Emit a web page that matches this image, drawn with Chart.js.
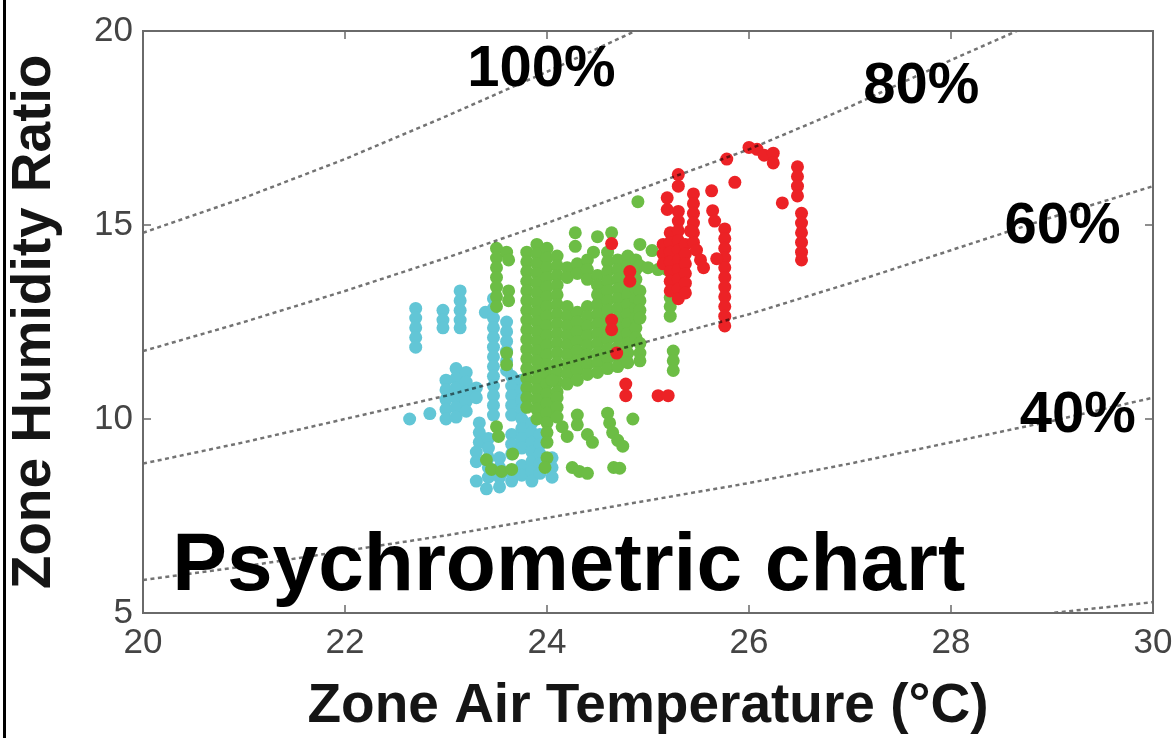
<!DOCTYPE html>
<html>
<head>
<meta charset="utf-8">
<script src="https://cdn.jsdelivr.net/npm/chart.js@4.4.0/dist/chart.umd.min.js"></script>
<style>
  html, body { margin: 0; padding: 0; background: #ffffff; }
  #wrap { position: relative; width: 1174px; height: 738px; overflow: hidden; }
  #edge { position: absolute; left: 3px; top: 0; width: 3px; height: 738px; background: #000; }
  canvas { position: absolute; left: 0; top: 0; }
</style>
</head>
<body>
<div id="wrap">
  <canvas id="c" width="1174" height="738"></canvas>
  <div id="edge"></div>
</div>
<script>
// ---------- axis ticks ----------
const xTicks = [20, 22, 24, 26, 28, 30];
const yTicks = [5, 10, 15, 20];

// ---------- relative-humidity curves ----------
const rhTemps = [20, 21, 22, 23, 24, 25, 26, 27, 28, 29, 30];
const rh100 = [14.8, 15.7, 16.7, 17.8, 18.95, 20.15, 21.4, 22.7, 24.1, 25.5, 27.0];
const rh80  = [11.75, 12.5, 13.3, 14.15, 15.05, 16.0, 16.95, 18.05, 19.25, 20.4, 21.5];
const rh60  = [8.85, 9.4, 10.0, 10.6, 11.3, 12.0, 12.7, 13.5, 14.35, 15.2, 16.0];
const rh40  = [5.85, 6.2, 6.6, 7.0, 7.45, 7.9, 8.35, 8.85, 9.4, 9.95, 10.55];
const rh20  = [2.9, 3.1, 3.3, 3.5, 3.7, 3.95, 4.2, 4.45, 4.7, 5.0, 5.28];

// ---------- measured zone points [temperature, humidity ratio] ----------
const cyanPoints = [
  [22.64,10.0],[22.84,10.14],
  [22.7,12.85],[22.7,12.6],[22.7,12.35],[22.7,12.1],[22.7,11.85],
  [22.97,12.8],[22.97,12.55],[22.97,12.35],
  [23.14,13.3],[23.14,13.05],[23.14,12.8],[23.14,12.55],[23.14,12.35],
  [23.39,12.75],
  [23.47,13.1],[23.47,12.85],[23.47,12.6],[23.47,12.35],[23.47,12.1],[23.47,11.85],[23.47,11.6],[23.47,11.35],[23.47,11.1],[23.47,10.85],[23.47,10.6],[23.47,10.35],[23.47,10.1],
  [23.0,11.0],[23.0,10.75],[23.0,10.5],[23.0,10.25],[23.0,10.0],
  [23.1,11.3],[23.1,11.05],[23.1,10.8],[23.1,10.55],[23.1,10.3],[23.1,10.05],
  [23.2,11.2],[23.2,10.95],[23.2,10.7],[23.2,10.45],[23.2,10.2],
  [23.3,10.8],[23.3,10.55],
  [23.33,9.9],[23.33,9.65],[23.33,9.4],[23.3,9.15],[23.3,8.9],[23.3,8.4],
  [23.42,9.5],[23.42,9.25],[23.42,9.0],[23.42,8.75],[23.42,8.5],[23.4,8.2],
  [23.53,9.0],[23.53,8.75],[23.53,8.5],[23.53,8.25],
  [23.6,12.5],[23.6,12.25],[23.6,12.0],[23.6,11.75],[23.6,11.5],[23.6,11.25],
  [23.65,11.1],[23.65,10.85],[23.65,10.6],[23.65,10.35],[23.65,10.1],[23.65,9.6],[23.65,9.35],[23.65,9.1],[23.65,8.6],[23.65,8.4],
  [23.75,11.0],[23.75,10.75],[23.75,10.5],[23.75,10.25],[23.75,10.0],[23.75,9.75],[23.75,9.5],[23.75,9.25],[23.75,8.8],[23.75,8.55],
  [23.85,9.9],[23.85,9.65],[23.85,9.4],[23.85,9.15],[23.85,8.9],[23.85,8.65],[23.85,8.4],
  [23.93,9.6],[23.93,9.35],[23.93,9.1],[23.93,8.85],[23.93,8.6],
  [24.05,9.0],[24.05,8.75],[24.05,8.5]
];

const greenPoints = [
  [23.5,14.4],[23.5,14.15],[23.5,13.9],[23.5,13.65],[23.5,13.4],[23.5,13.15],[23.5,12.9],
  [23.6,14.3],[23.62,14.1],[23.62,13.3],[23.62,13.05],[23.6,11.7],[23.6,11.4],
  [23.8,14.3],[23.8,14.05],[23.8,13.8],[23.8,13.55],[23.8,13.3],[23.8,13.05],[23.8,12.8],[23.8,12.55],[23.8,12.3],[23.8,12.05],[23.8,11.8],[23.8,11.55],[23.8,11.3],[23.8,11.05],[23.8,10.8],[23.8,10.55],[23.8,10.3],
  [23.9,14.5],[23.9,14.25],[23.9,14.0],[23.9,13.75],[23.9,13.5],[23.9,13.25],[23.9,13.0],[23.9,12.75],[23.9,12.5],[23.9,12.25],[23.9,12.0],[23.9,11.75],[23.9,11.5],[23.9,11.25],[23.9,11.0],[23.9,10.75],[23.9,10.5],[23.9,10.25],[23.9,10.0],
  [24.0,14.4],[24.0,14.15],[24.0,13.9],[24.0,13.65],[24.0,13.4],[24.0,13.15],[24.0,12.9],[24.0,12.65],[24.0,12.4],[24.0,12.15],[24.0,11.9],[24.0,11.65],[24.0,11.4],[24.0,11.15],[24.0,10.9],[24.0,10.65],[24.0,10.4],[24.0,10.15],[24.0,9.9],[24.0,9.65],[24.0,9.4],[24.0,9.0],[23.98,8.75],
  [24.1,14.2],[24.1,13.95],[24.1,13.7],[24.1,13.45],[24.1,13.2],[24.1,12.95],[24.1,12.7],[24.1,12.45],[24.1,12.2],[24.1,11.95],[24.1,11.7],[24.1,11.45],[24.1,11.2],[24.1,10.95],[24.1,10.7],
  [24.2,13.9],[24.2,13.65],[24.2,12.9],[24.2,12.65],[24.2,12.4],[24.2,12.15],[24.2,11.9],[24.2,11.65],[24.2,11.4],[24.2,11.15],[24.2,10.9],
  [24.3,14.0],[24.3,13.75],[24.3,12.75],[24.3,12.5],[24.3,12.25],[24.3,12.0],[24.3,11.75],[24.3,11.5],[24.3,11.25],[24.3,11.0],
  [24.4,14.1],[24.4,13.85],[24.4,13.6],[24.4,12.9],[24.4,12.65],[24.4,12.4],[24.4,12.15],[24.4,11.9],[24.4,11.65],[24.4,11.4],[24.4,11.15],
  [24.5,13.7],[24.5,13.45],[24.5,13.2],[24.5,12.95],[24.5,12.7],[24.5,12.45],[24.5,12.2],[24.5,11.95],[24.5,11.7],[24.5,11.45],[24.5,11.2],
  [24.6,14.3],[24.6,14.05],[24.6,13.8],[24.6,13.55],[24.6,13.3],[24.6,13.05],[24.6,12.8],[24.6,12.55],[24.6,12.3],[24.6,12.05],[24.6,11.8],[24.6,11.55],[24.6,11.3],
  [24.7,14.1],[24.7,13.85],[24.7,13.6],[24.7,13.35],[24.7,13.1],[24.7,12.85],[24.7,12.6],[24.7,12.35],[24.7,12.1],[24.7,11.85],[24.7,11.6],[24.7,11.35],
  [24.8,14.2],[24.8,13.95],[24.8,13.7],[24.8,13.45],[24.8,13.2],[24.8,12.95],[24.8,12.7],[24.8,12.45],[24.8,12.2],[24.8,11.95],[24.8,11.7],[24.8,11.45],
  [24.88,14.1],[24.88,13.85],[24.88,13.6],[24.88,13.35],[24.88,13.1],[24.88,12.85],[24.88,12.6],[24.88,12.35],[24.88,12.1],
  [24.28,14.8],[24.28,14.45],[24.46,14.3],[24.5,14.7],[24.64,14.8],
  [24.9,15.6],[24.92,14.5],[25.04,14.34],[24.92,13.95],[25.0,13.9],[25.1,13.85],[25.19,13.85],
  [24.92,13.3],[24.92,13.05],[24.92,12.8],[24.92,12.6],[24.92,11.95],[24.92,11.7],[24.92,11.5],
  [25.22,13.13],[25.22,12.9],[25.22,12.65],[25.25,11.75],[25.25,11.5],[25.25,11.25],
  [24.05,11.0],[24.1,10.55],[24.1,10.3],[24.1,10.05],[24.15,9.8],[24.2,9.55],[24.3,10.1],[24.3,9.85],[24.4,9.6],[24.45,9.4],
  [24.6,10.15],[24.62,9.9],[24.65,9.65],[24.7,9.45],[24.75,9.3],[24.85,10.0],
  [24.25,8.75],[24.32,8.65],[24.4,8.6],[24.66,8.75],[24.72,8.73],
  [23.5,9.8],[23.52,9.55],[23.4,8.95],[23.66,9.1],[23.45,8.7],[23.55,8.65],[23.65,8.7]
];

const redPoints = [
  [24.64,14.52],[24.82,13.8],[24.82,13.55],[24.64,12.55],[24.64,12.3],[24.69,11.7],[24.78,10.9],[24.78,10.6],
  [25.1,10.6],[25.2,10.6],
  [25.15,14.5],[25.15,14.25],[25.15,14.0],
  [25.22,14.8],[25.22,14.55],[25.22,14.3],[25.22,14.05],[25.22,13.8],[25.22,13.55],[25.22,13.3],
  [25.3,15.35],[25.3,15.1],[25.3,14.85],[25.3,14.6],[25.3,14.35],[25.3,14.1],[25.3,13.85],[25.3,13.6],[25.3,13.35],[25.3,13.1],
  [25.37,14.5],[25.37,14.25],[25.37,14.0],[25.37,13.75],[25.37,13.5],[25.37,13.25],
  [25.3,16.3],[25.3,16.0],[25.19,15.7],[25.19,15.4],
  [25.45,15.8],[25.45,15.55],[25.45,15.3],[25.45,15.05],[25.45,14.8],[25.45,14.55],
  [25.42,14.85],[25.48,14.35],[25.52,14.1],[25.55,13.9],
  [25.64,15.37],[25.66,15.1],[25.63,15.88],[25.86,16.1],
  [25.76,14.9],[25.76,14.65],[25.76,14.4],[25.76,14.15],[25.76,13.9],[25.76,13.65],[25.76,13.4],[25.76,13.15],[25.76,12.9],[25.76,12.65],[25.76,12.4],
  [25.68,14.13],[25.78,16.7],
  [26.0,17.0],[26.08,16.95],[26.15,16.8],[26.24,16.85],[26.24,16.6],
  [26.33,15.57],
  [26.48,16.5],[26.48,16.25],[26.48,16.0],[26.48,15.75],
  [26.52,15.3],[26.52,15.05],[26.52,14.8],[26.52,14.55],[26.52,14.3],[26.52,14.1]
];

// ---------- text labels inside the plot ----------
const rhLabels = ['100%', '80%', '60%', '40%'];
const rhLabelAnchors = [[23.21, 18.58], [27.13, 18.15], [28.53, 14.54], [28.68, 9.66]];
const chartNote = 'Psychrometric chart';
const chartNoteAnchor = [20.29, 5.59];

const FONT = '"Liberation Sans", Arial, Helvetica, sans-serif';

const toXY = arr => arr.map(p => ({ x: p[0], y: p[1] }));
const curve = vals => rhTemps.map((t, i) => ({ x: t, y: vals[i] }));

const lineStyle = {
  showLine: true, pointRadius: 0, borderColor: 'rgba(0,0,0,0.55)', borderWidth: 2.5,
  borderDash: [4, 3.5], fill: false, tension: 0
};
const dotStyle = c => ({ pointRadius: 6.5, pointHoverRadius: 6.5, backgroundColor: c, borderWidth: 0, showLine: false });

const framePlugin = {
  id: 'frame',
  afterDatasetsDraw(chart) {
    const { ctx, chartArea: a, scales: { x, y } } = chart;
    ctx.save();
    ctx.strokeStyle = '#6a6a6a';
    ctx.lineWidth = 2;
    ctx.strokeRect(a.left, a.top, a.right - a.left, a.bottom - a.top);
    ctx.lineWidth = 1.5;
    ctx.beginPath();
    xTicks.forEach(v => {
      if (v === x.min || v === x.max) return;
      const px = x.getPixelForValue(v);
      ctx.moveTo(px, a.bottom); ctx.lineTo(px, a.bottom - 8);
      ctx.moveTo(px, a.top); ctx.lineTo(px, a.top + 8);
    });
    yTicks.forEach(v => {
      if (v === y.min || v === y.max) return;
      const py = y.getPixelForValue(v);
      ctx.moveTo(a.left, py); ctx.lineTo(a.left + 8, py);
      ctx.moveTo(a.right, py); ctx.lineTo(a.right - 8, py);
    });
    ctx.stroke();

    ctx.fillStyle = '#000';
    ctx.textAlign = 'left';
    ctx.textBaseline = 'alphabetic';
    ctx.font = 'bold 58px ' + FONT;
    rhLabels.forEach((t, i) => {
      ctx.fillText(t, x.getPixelForValue(rhLabelAnchors[i][0]), y.getPixelForValue(rhLabelAnchors[i][1]));
    });
    ctx.font = 'bold 82px ' + FONT;
    ctx.fillText(chartNote, x.getPixelForValue(chartNoteAnchor[0]), y.getPixelForValue(chartNoteAnchor[1]));
    ctx.restore();
  }
};

new Chart(document.getElementById('c'), {
  type: 'scatter',
  data: {
    datasets: [
      Object.assign({ label: '100%', data: curve(rh100) }, lineStyle),
      Object.assign({ label: '80%', data: curve(rh80) }, lineStyle),
      Object.assign({ label: '60%', data: curve(rh60) }, lineStyle),
      Object.assign({ label: '40%', data: curve(rh40) }, lineStyle),
      Object.assign({ label: '20%', data: curve(rh20) }, lineStyle),
      Object.assign({ label: 'red', data: toXY(redPoints) }, dotStyle('#ec2226')),
      Object.assign({ label: 'green', data: toXY(greenPoints) }, dotStyle('#6cbd45')),
      Object.assign({ label: 'cyan', data: toXY(cyanPoints) }, dotStyle('#62c6d6'))
    ]
  },
  options: {
    responsive: false,
    animation: false,
    devicePixelRatio: 1,
    layout: { padding: { left: 0, right: 21, top: 30, bottom: 0 } },
    plugins: { legend: { display: false }, tooltip: { enabled: false } },
    scales: {
      x: {
        type: 'linear', min: 20, max: 30,
        afterBuildTicks: s => { s.ticks = xTicks.map(v => ({ value: v })); },
        afterFit: s => { s.height = 125; s.paddingLeft = 0; s.paddingRight = 0; },
        ticks: { font: { family: FONT, size: 35 }, color: '#444', padding: 9, maxRotation: 0, autoSkip: false },
        grid: { display: false, drawTicks: false, tickLength: 0 },
        border: { display: false },
        title: { display: true, text: 'Zone Air Temperature (°C)', color: '#151515',
                 font: { family: FONT, size: 55, weight: 'bold', lineHeight: 1 }, padding: { top: 0, bottom: 4 } }
      },
      y: {
        type: 'linear', min: 5, max: 20,
        afterBuildTicks: s => { s.ticks = yTicks.map(v => ({ value: v })); },
        afterFit: s => { s.width = 143; },
        ticks: { font: { family: FONT, size: 35 }, color: '#444', padding: 10 },
        grid: { display: false, drawTicks: false, tickLength: 0 },
        border: { display: false },
        title: { display: true, text: 'Zone Humidity Ratio', color: '#151515',
                 font: { family: FONT, size: 55, weight: 'bold', lineHeight: 1 }, padding: { top: 7, bottom: 0 } }
      }
    }
  },
  plugins: [framePlugin]
});
</script>
</body>
</html>
